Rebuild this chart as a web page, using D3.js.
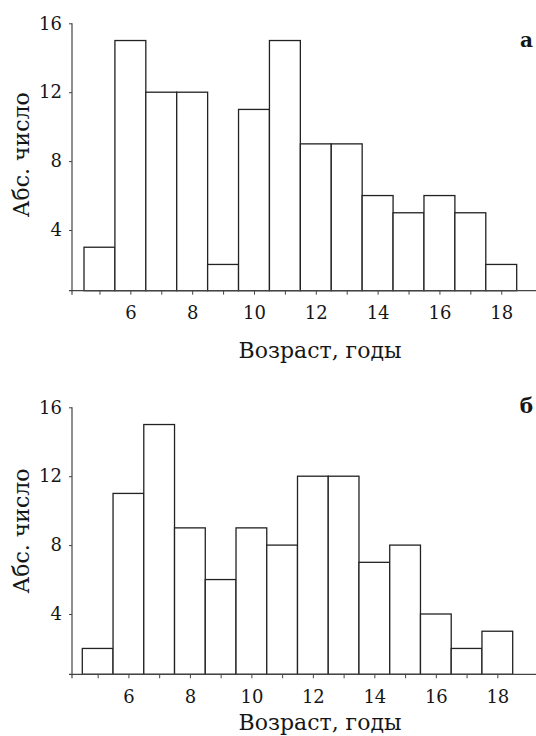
<!DOCTYPE html>
<html lang="ru">
<head>
<meta charset="UTF-8">
<title>Возраст, годы</title>
<script src="https://cdn.jsdelivr.net/npm/d3@7/dist/d3.min.js"></script>
<style>
    body { margin: 0; background: #fff; }
    svg { display: block; }
    text { font-family: "DejaVu Serif", "Liberation Serif", serif; fill: #161616; }
</style>
</head>
<body>
<script>
    // data
    let ages = [5, 6, 7, 8, 9, 10, 11, 12, 13, 14, 15, 16, 17, 18]
    let countsA = [3, 15, 12, 12, 2, 11, 15, 9, 9, 6, 5, 6, 5, 2]
    let countsB = [2, 11, 15, 9, 6, 9, 8, 12, 12, 7, 8, 4, 2, 3]
    let yTicks = [4, 8, 12, 16]
    let xLabels = [6, 8, 10, 12, 14, 16, 18]
    let panelNames = ["а", "б"]

    let W = 536, H = 736
    let svg = d3.select('body').append('svg')
        .attr('width', W)
        .attr('height', H)

    // each panel: where its axes sit
    let panels = [
        {counts: countsA, name: panelNames[0], axisX: 72, axisY: 290.7,
         y0: 298.9, y16: 23.3, xl: 84, xr: 516.7,
         nameY: 47, titleY: 357.5, ylabY: 154.7},
        {counts: countsB, name: panelNames[1], axisX: 72, axisY: 674.3,
         y0: 682.9, y16: 407.3, xl: 82.3, xr: 512.7,
         nameY: 412.5, titleY: 729.5, ylabY: 531}
    ]

    panels.forEach(function (p) {
        let g = svg.append('g')

        let x = d3.scaleLinear()
            .domain([4.5, 18.5])
            .range([p.xl, p.xr])
        let y = d3.scaleLinear()
            .domain([0, 16])
            .range([p.y0, p.y16])

        // bars
        g.selectAll('rect')
            .data(ages)
            .enter()
            .append('rect')
            .attr('x', function (d) { return x(d - 0.5) })
            .attr('width', function (d) { return x(d + 0.5) - x(d - 0.5) })
            .attr('y', function (d, i) { return y(p.counts[i]) })
            .attr('height', function (d, i) { return p.axisY - y(p.counts[i]) })
            .attr('fill', '#fff')
            .attr('stroke', '#222')
            .attr('stroke-width', 1.3)

        // x axis: line runs to the right edge
        g.append('line')
            .attr('x1', p.axisX - 3).attr('x2', W)
            .attr('y1', p.axisY).attr('y2', p.axisY)
            .attr('stroke', '#444').attr('stroke-width', 1.2)

        let xAxis = g.append('g')
            .attr('transform', 'translate(0,' + p.axisY + ')')
            .call(d3.axisBottom(x)
                .tickValues(ages)
                .tickSize(4)
                .tickPadding(12)
                .tickFormat(function (d) { return xLabels.indexOf(d) >= 0 ? d : '' }))
        xAxis.select('.domain').remove()
        xAxis.selectAll('line').attr('stroke', '#444')
        xAxis.selectAll('text')
            .attr('font-family', '"DejaVu Serif", serif')
            .attr('font-size', 18)
            .attr('fill', '#161616')

        // y axis
        g.append('line')
            .attr('x1', p.axisX).attr('x2', p.axisX)
            .attr('y1', y(16)).attr('y2', p.axisY + 4)
            .attr('stroke', '#444').attr('stroke-width', 1.2)

        let yAxis = g.append('g')
            .attr('transform', 'translate(' + p.axisX + ',0)')
            .call(d3.axisLeft(y)
                .tickValues(yTicks)
                .tickSize(3)
                .tickPadding(7))
        yAxis.select('.domain').remove()
        yAxis.selectAll('line').attr('stroke', '#444')
        yAxis.selectAll('text')
            .attr('font-family', '"DejaVu Serif", serif')
            .attr('font-size', 18)
            .attr('fill', '#161616')

        // titles
        g.append('text')
            .attr('x', 320)
            .attr('y', p.titleY)
            .attr('text-anchor', 'middle')
            .style('font-size', '22px')
            .text('Возраст, годы')

        g.append('text')
            .attr('transform', 'translate(29,' + p.ylabY + ') rotate(-90)')
            .attr('text-anchor', 'middle')
            .style('font-size', '22px')
            .text('Абс. число')

        g.append('text')
            .attr('x', 533)
            .attr('y', p.nameY)
            .attr('text-anchor', 'end')
            .style('font-size', '20px')
            .style('font-weight', 'bold')
            .text(p.name)
    })
</script>
</body>
</html>
